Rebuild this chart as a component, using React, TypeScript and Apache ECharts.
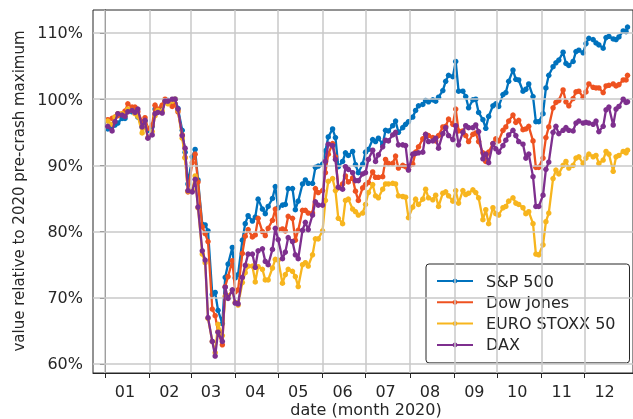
import React, { useEffect, useRef } from "react";
import * as echarts from "echarts";

const seriesNames = ["S&P 500", "Dow Jones", "EURO STOXX 50", "DAX"];
const seriesColors = ["#0072BD", "#EE5220", "#F7B51E", "#7E2F8E"];
const monthStarts = [0, 31, 60, 91, 121, 152, 182, 213, 244, 274, 305, 335];
const monthMids = [14, 45, 74, 105, 135, 166, 196, 227, 258, 288, 319, 349];
const monthLabels = ["01", "02", "03", "04", "05", "06", "07", "08", "09", "10", "11", "12"];
const yTicks = [60, 70, 80, 90, 100, 110];

// sampling grid: Mon/Wed/Fri of 2020 (day 0 = Jan 1, a Wednesday), plus Dec 31
const sampleDays: number[] = [];
for (let d = 2; d <= 364; d++) {
  const wd = (d + 3) % 7;
  if (wd === 1 || wd === 3 || wd === 5) sampleDays.push(d);
}
sampleDays.push(365);

const spx = [
  95.5,
  95.9, 96.1, 96.4,
  97.1, 97.1, 98.3,
  98.1, 98.1, 97.3,
  95.8, 96.7, 95.3,
  95.9, 98.5, 98.3,
  99.0, 99.8, 99.8,
  99.5, 100.0, 98.6,
  95.3, 92.0, 87.2,
  91.3, 92.4, 87.8,
  81.1, 81.0, 80.1,
  70.5, 70.8, 68.1,
  66.1, 73.1, 75.1,
  77.6, 73.0, 73.5,
  78.7, 81.2, 82.4,
  81.6, 82.2, 84.9,
  83.4, 82.7, 83.8,
  85.0, 86.8, 83.6,
  84.0, 84.1, 86.5,
  86.5, 83.3, 84.6,
  87.2, 87.8, 87.3,
  87.3, 89.7, 89.9,
  90.2, 92.2, 94.3,
  95.5, 94.2, 89.8,
  90.6, 91.9, 91.5,
  92.1, 90.1, 88.9,
  90.2, 92.0, 92.4,
  93.9, 93.6, 94.1,
  93.2, 95.3, 95.2,
  96.0, 96.7, 95.0,
  95.7, 96.2, 96.6,
  97.3, 98.3, 99.0,
  99.2, 99.8, 99.6,
  99.9, 99.7, 100.3,
  101.3, 102.7, 103.6,
  103.4, 105.7, 101.2,
  101.2, 100.4, 98.7,
  99.9, 100.0, 98.0,
  96.9, 95.6, 97.4,
  99.0, 99.3, 98.9,
  100.7, 101.0, 102.7,
  104.4, 103.0, 102.9,
  101.2, 101.5, 102.3,
  100.4, 96.6, 96.6,
  97.8, 101.7, 103.6,
  104.9, 105.5, 105.9,
  107.1, 105.4, 105.1,
  105.7, 107.2, 107.4,
  107.0, 108.4, 109.2,
  109.0, 108.5, 108.2,
  107.7, 109.3, 109.5,
  109.1, 109.0, 109.4,
  110.3, 110.2, 110.9,
];

const dow = [
  96.9,
  97.1, 97.3, 97.5,
  97.8, 98.2, 99.3,
  98.8, 98.8, 98.1,
  96.6, 97.2, 95.6,
  96.1, 99.1, 98.5,
  99.1, 100.0, 99.5,
  98.9, 99.3, 98.1,
  94.6, 91.2, 86.0,
  90.4, 91.7, 87.5,
  80.7, 79.7, 78.5,
  68.3, 67.3, 64.9,
  62.9, 71.7, 73.2,
  75.6, 70.9, 71.2,
  76.7, 79.3, 80.3,
  79.2, 79.5, 82.0,
  80.0, 79.4, 80.5,
  81.7, 83.4, 80.3,
  80.4, 80.1, 82.3,
  82.0, 78.7, 80.2,
  83.2, 83.2, 82.8,
  82.8, 86.5, 85.9,
  86.2, 88.9, 91.7,
  93.3, 91.3, 86.6,
  87.2, 88.4, 87.5,
  88.1, 86.1, 84.7,
  86.6, 87.1, 87.4,
  89.0, 88.2, 88.2,
  88.3, 90.9, 90.3,
  90.3, 91.4, 89.6,
  90.0, 89.8, 89.4,
  90.2, 92.0, 92.8,
  94.0, 94.7, 94.5,
  94.2, 93.7, 94.5,
  95.8, 95.9, 97.0,
  96.2, 98.5, 95.2,
  95.2, 94.5, 93.6,
  94.7, 94.9, 93.6,
  91.9, 90.6, 92.0,
  93.3, 94.0, 93.7,
  95.3, 95.8, 96.7,
  97.6, 96.5, 96.8,
  95.4, 95.5, 95.9,
  93.7, 89.7, 89.7,
  91.1, 94.2, 95.8,
  98.7, 99.5, 99.8,
  101.4, 99.6, 99.0,
  100.1, 101.1, 101.2,
  100.3, 101.1, 102.3,
  101.8, 101.7, 101.7,
  101.0, 102.0, 102.1,
  102.3, 102.0, 102.2,
  102.9, 102.9, 103.6,
];

const stoxx = [
  96.7,
  96.2, 97.3, 97.8,
  97.8, 97.5, 98.5,
  98.3, 97.8, 97.4,
  94.9, 95.9, 94.2,
  95.1, 97.5, 98.3,
  98.2, 99.7, 99.3,
  99.7, 100.0, 98.3,
  94.1, 91.1, 86.1,
  86.3, 88.4, 83.6,
  76.6, 75.3, 66.9,
  63.4, 61.7, 66.0,
  64.3, 70.2, 70.3,
  71.1, 69.3, 68.9,
  72.3, 73.8, 74.8,
  74.8, 72.4, 74.7,
  74.3, 72.7, 72.7,
  74.5, 75.8, 75.7,
  72.2, 73.5, 74.3,
  74.0, 73.2, 71.7,
  75.0, 75.3, 74.8,
  76.5, 78.9, 78.9,
  80.1, 84.7, 87.6,
  88.0, 86.2, 82.0,
  81.2, 84.7, 84.9,
  83.4, 83.0, 82.5,
  82.8, 84.1, 85.9,
  87.1, 85.4, 85.1,
  86.4, 87.2, 87.2,
  87.3, 87.2, 85.4,
  85.3, 85.2, 82.1,
  83.7, 84.9, 84.1,
  84.9, 86.4, 85.1,
  84.8, 85.5, 83.8,
  85.8, 86.0, 85.4,
  84.6, 86.2, 84.3,
  86.2, 85.6, 85.8,
  86.3, 85.9, 85.1,
  81.8, 83.3, 81.2,
  83.6, 82.7, 82.5,
  83.6, 83.8, 84.6,
  85.1, 84.3, 84.1,
  83.6, 82.7, 83.0,
  81.2, 76.6, 76.5,
  78.0, 81.5, 82.8,
  88.0, 89.3, 88.7,
  90.0, 90.6, 89.6,
  90.0, 91.1, 91.3,
  90.3, 91.1, 91.7,
  91.3, 91.5, 90.3,
  90.8, 92.1, 91.7,
  89.1, 91.3, 91.5,
  92.1, 91.9, 92.3,
];

const dax = [
  95.9,
  95.2, 96.6, 97.8,
  97.6, 97.4, 98.1,
  98.3, 98.0, 98.5,
  95.8, 96.8, 94.1,
  94.6, 97.8, 98.0,
  97.9, 99.7, 99.7,
  100.0, 100.0, 98.5,
  94.5, 92.6, 86.2,
  86.0, 87.9, 83.7,
  77.1, 75.7, 67.0,
  63.4, 61.2, 64.8,
  63.4, 71.6, 69.9,
  71.2, 69.2, 69.1,
  73.1, 74.9, 76.6,
  76.6, 74.6, 77.1,
  77.4, 75.5, 75.0,
  77.3, 80.5, 78.8,
  75.9, 76.9, 79.1,
  78.5, 76.5, 75.9,
  80.2, 81.4, 80.3,
  82.5, 84.5, 84.0,
  84.0, 90.6, 93.2,
  93.0, 90.9, 86.7,
  86.4, 89.8, 89.4,
  88.9, 87.7, 87.7,
  88.7, 88.9, 90.9,
  92.3, 90.6, 91.6,
  92.8, 93.8, 93.7,
  94.6, 95.0, 93.1,
  93.1, 93.0, 89.3,
  91.7, 91.8, 91.9,
  92.0, 94.7, 93.6,
  93.7, 94.1, 92.6,
  94.8, 95.7, 94.5,
  93.9, 96.0, 93.1,
  95.0, 96.0, 95.7,
  95.7, 96.1, 95.1,
  91.0, 91.7, 90.4,
  93.3, 92.5, 92.0,
  93.0, 93.8, 94.6,
  95.3, 94.5, 93.6,
  93.2, 91.1, 91.7,
  88.3, 83.8, 83.8,
  85.5, 89.4, 90.5,
  95.0, 95.9, 94.8,
  95.3, 95.7, 95.3,
  95.2, 96.4, 96.7,
  96.4, 96.5, 96.4,
  96.2, 96.7, 95.1,
  95.9, 98.4, 98.8,
  96.1, 98.5, 98.9,
  100.0, 99.5, 99.6,
];

const seriesValues = [spx, dow, stoxx, dax];

const FONT = "DejaVu Sans";
const TEXT = "#262626";

export default function App() {
  const ref = useRef<HTMLDivElement>(null);

  useEffect(() => {
    document.body.style.margin = "0";
    if (!ref.current) return;
    const chart = echarts.init(ref.current, null, { renderer: "svg" });

    const dataSeries = seriesValues.map((vals, i) => ({
      name: seriesNames[i],
      type: "line",
      data: sampleDays.map((d, j) => [d, vals[j]]),
      symbol: "circle",
      symbolSize: 5.5,
      showSymbol: true,
      showAllSymbol: true,
      z: 2 + i,
      lineStyle: { color: seriesColors[i], width: 2.3 },
      itemStyle: { color: seriesColors[i] },
      emphasis: { disabled: true },
    }));

    const gridSeries = {
      type: "line",
      data: [],
      z: 1,
      silent: true,
      markLine: {
        silent: true,
        symbol: ["none", "none"],
        label: { show: false },
        emphasis: { disabled: true },
        lineStyle: { color: "#c8c8c8", width: 1.5, type: "solid" },
        data: [
          ...monthStarts.map((m) => ({ xAxis: m })),
          ...yTicks.map((v) => ({ yAxis: v })),
        ],
      },
    };

    chart.setOption({
      animation: false,
      textStyle: { fontFamily: FONT },
      grid: {
        left: 93,
        top: 10,
        width: 543,
        height: 363,
        show: true,
        borderColor: "#262626",
        borderWidth: 1,
        backgroundColor: "transparent",
        containLabel: false,
      },
      xAxis: {
        type: "value",
        min: -8.33,
        max: 368.83,
        splitLine: { show: false },
        axisLine: { show: true, lineStyle: { color: "#262626", width: 1 } },
        axisTick: {
          show: true,
          length: 5,
          inside: false,
          customValues: monthStarts,
          lineStyle: { color: "#262626", width: 1 },
        },
        axisLabel: {
          customValues: monthMids,
          margin: 10,
          fontSize: 16,
          fontFamily: FONT,
          color: TEXT,
          formatter: (v: number) => monthLabels[monthMids.indexOf(v)] ?? "",
        },
      },
      yAxis: {
        type: "value",
        min: 58.64,
        max: 113.47,
        splitLine: { show: false },
        axisLine: { show: true, lineStyle: { color: "#262626", width: 1 } },
        axisTick: {
          show: true,
          length: 5,
          customValues: yTicks,
          lineStyle: { color: "#262626", width: 1 },
        },
        axisLabel: {
          customValues: yTicks,
          margin: 10,
          fontSize: 16,
          fontFamily: FONT,
          color: TEXT,
          formatter: (v: number) => `${v}%`,
        },
      },
      legend: {
        show: true,
        orient: "vertical",
        left: 426,
        top: 264,
        data: seriesNames,
        itemWidth: 36,
        itemHeight: 6,
        itemGap: 5.3,
        padding: [9, 14, 10, 10],
        backgroundColor: "#ffffff",
        borderColor: "#262626",
        borderWidth: 1,
        borderRadius: 3,
        selectedMode: false,
        textStyle: {
          fontSize: 16,
          fontFamily: FONT,
          color: TEXT,
          padding: [0, 0, 0, 8],
        },
      },
      graphic: [
        {
          type: "text",
          x: 19,
          y: 191,
          rotation: Math.PI / 2,
          style: {
            text: "value relative to 2020 pre-crash maximum",
            font: `15px "${FONT}"`,
            fill: TEXT,
            align: "center",
            verticalAlign: "middle",
          },
        },
        {
          type: "text",
          x: 366,
          y: 409,
          style: {
            text: "date (month 2020)",
            font: `16px "${FONT}"`,
            fill: TEXT,
            align: "center",
            verticalAlign: "middle",
          },
        },
      ],
      series: [gridSeries, ...dataSeries],
    });

    return () => chart.dispose();
  }, []);

  return (
    <div
      ref={ref}
      style={{ position: "fixed", left: 0, top: 0, width: 633, height: 419 }}
    />
  );
}
